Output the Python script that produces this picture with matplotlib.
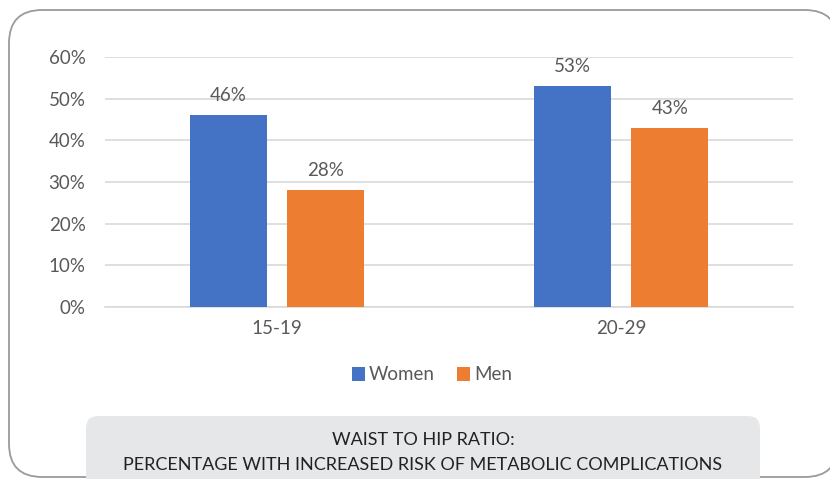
import numpy as np
import matplotlib.pyplot as plt
from matplotlib.patches import FancyBboxPatch
from matplotlib.ticker import PercentFormatter

plt.rcParams['font.family'] = ['Lato', 'DejaVu Sans']

age_groups = ['15-19', '20-29']
series_names = ['Women', 'Men']
women = [0.46, 0.53]
men = [0.28, 0.43]
yticks = [0, 0.1, 0.2, 0.3, 0.4, 0.5, 0.6]

blue = '#4472c4'
orange = '#ed7d31'
grey_text = '#595959'

W, H = 830, 479
fig = plt.figure(figsize=(W / 100, H / 100), dpi=100)

# rounded frame around the whole chart (right side runs off the page)
frame = FancyBboxPatch((9 / W, 2 / H), (838 - 9) / W, (H - 12) / H,
                       boxstyle='round,pad=0,rounding_size=0.04',
                       transform=fig.transFigure, facecolor='white',
                       edgecolor='#9a9a9a', linewidth=1.3, mutation_aspect=W / H,
                       zorder=-2)
fig.patches.append(frame)

# caption box at the bottom
cap = FancyBboxPatch((86 / W, -30 / H), (760 - 86) / W, (H - 416 + 30) / H,
                     boxstyle='round,pad=0,rounding_size=0.015',
                     transform=fig.transFigure, facecolor='#e6e7e8',
                     edgecolor='none', mutation_aspect=W / H, zorder=-1)
fig.patches.append(cap)
fig.text(423 / W, 1 - 440 / H, 'WAIST TO HIP RATIO:', ha='center', va='center',
         fontsize=13, color='#222222')
fig.text(423 / W, 1 - 465 / H,
         'PERCENTAGE WITH INCREASED RISK OF METABOLIC COMPLICATIONS',
         ha='center', va='center', fontsize=13, color='#222222')

ax = fig.add_axes([105 / W, 1 - 307 / H, (793 - 105) / W, (307 - 57) / H])
ax.set_facecolor('none')

x = np.arange(len(age_groups))
bw = 0.224
off = 0.142
b1 = ax.bar(x - off, women, bw, color=blue, label=series_names[0], zorder=3)
b2 = ax.bar(x + off, men, bw, color=orange, label=series_names[1], zorder=3)

for bars, vals in ((b1, women), (b2, men)):
    for rect, v in zip(bars, vals):
        ax.annotate(f'{v:.0%}', (rect.get_x() + rect.get_width() / 2, v),
                    xytext=(0, 8), textcoords='offset points', ha='center',
                    va='bottom', fontsize=13.5, color=grey_text)

ax.set_xlim(-0.5, 1.5)
ax.set_ylim(0, 0.6)
ax.set_yticks(yticks)
ax.yaxis.set_major_formatter(PercentFormatter(1.0, decimals=0))
ax.set_xticks(x)
ax.set_xticklabels(age_groups)
ax.grid(axis='y', color='#d9d9d9', linewidth=1.2, zorder=0)
for s in ['top', 'right', 'left']:
    ax.spines[s].set_visible(False)
ax.spines['bottom'].set_color('#d9d9d9')
ax.spines['bottom'].set_linewidth(1.2)
ax.tick_params(axis='both', length=0, labelsize=13.5, colors=grey_text)
ax.tick_params(axis='y', pad=14)
ax.tick_params(axis='x', pad=9)

ax.legend(loc='center', bbox_to_anchor=(432 / W, 1 - 375 / H), bbox_transform=fig.transFigure,
          ncol=2, frameon=False, fontsize=13.5, labelcolor=grey_text,
          handlelength=0.7, handleheight=0.7, handletextpad=0.2, columnspacing=1.2)

fig.savefig('out.png', dpi=100)
